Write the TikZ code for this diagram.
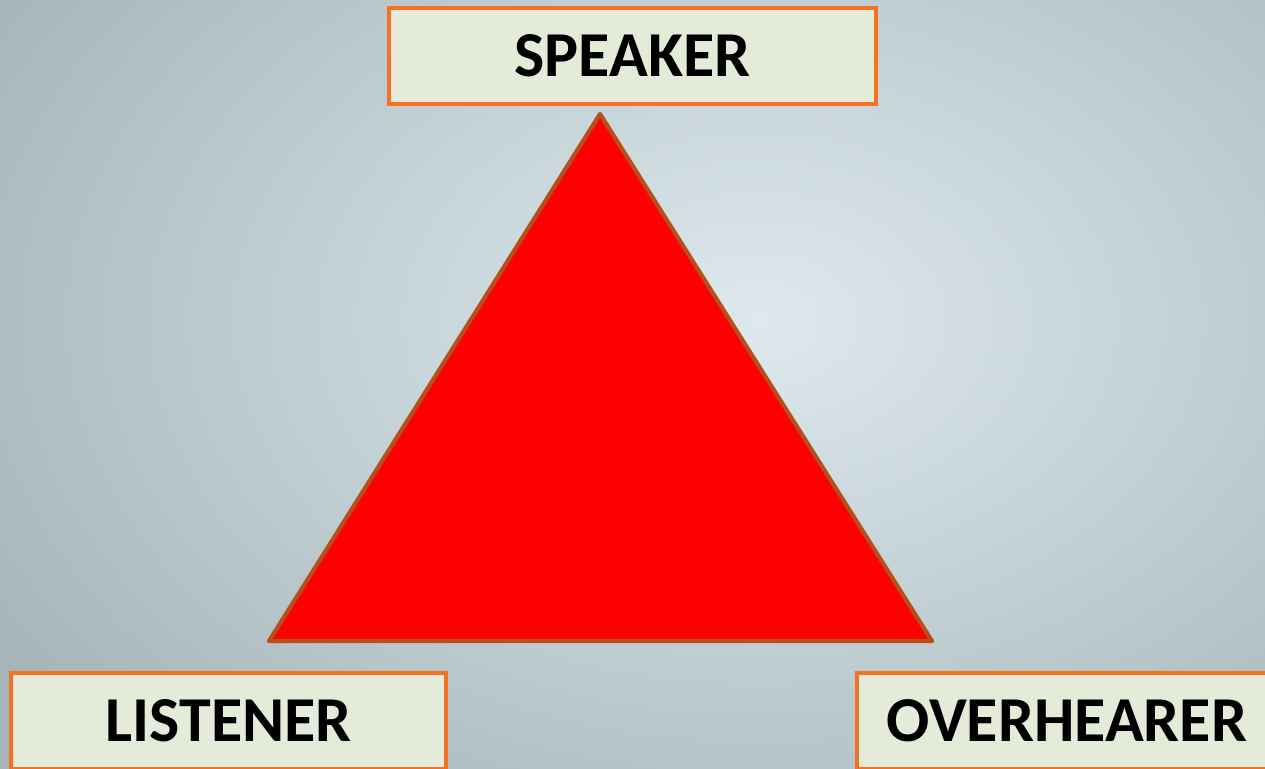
\documentclass[tikz,border=0pt]{standalone}
\usepackage{fontspec}
\setmainfont{Carlito}
\definecolor{bginner}{HTML}{DDE9ED}
\definecolor{bgouter}{HTML}{A7B5BA}
\definecolor{boxfill}{HTML}{E4EBD8}
\definecolor{boxline}{HTML}{F57222}
\definecolor{triline}{HTML}{B5501A}
\definecolor{trifill}{HTML}{FF0000}
\tikzset{
  rolebox/.style={draw=boxline, fill=boxfill, line width=4pt, minimum height=96pt,
    inner sep=0pt, font=\bfseries\fontsize{64}{68}\selectfont, text=black},
}
\begin{document}
\begin{tikzpicture}[x=1pt,y=-1pt]
\useasboundingbox (0,0) rectangle (1265,768);
\clip (0,0) rectangle (1265,768);
\shade[inner color=bginner, outer color=bgouter] (-140,-300) rectangle (1660,940);
\coordinate (A) at (600,114);
\coordinate (B) at (269,641);
\coordinate (C) at (932,641);
\draw[fill=trifill, draw=triline, line width=4.2pt, line join=round] (A) -- (B) -- (C) -- cycle;
\node[rolebox, minimum width=487pt] (speaker) at (632.5,56) {SPEAKER};
\node[rolebox, minimum width=435pt] (listener) at (228.5,721) {LISTENER};
\node[rolebox, minimum width=420pt] (overhearer) at (1067,721) {OVERHEARER};
\end{tikzpicture}
\end{document}
